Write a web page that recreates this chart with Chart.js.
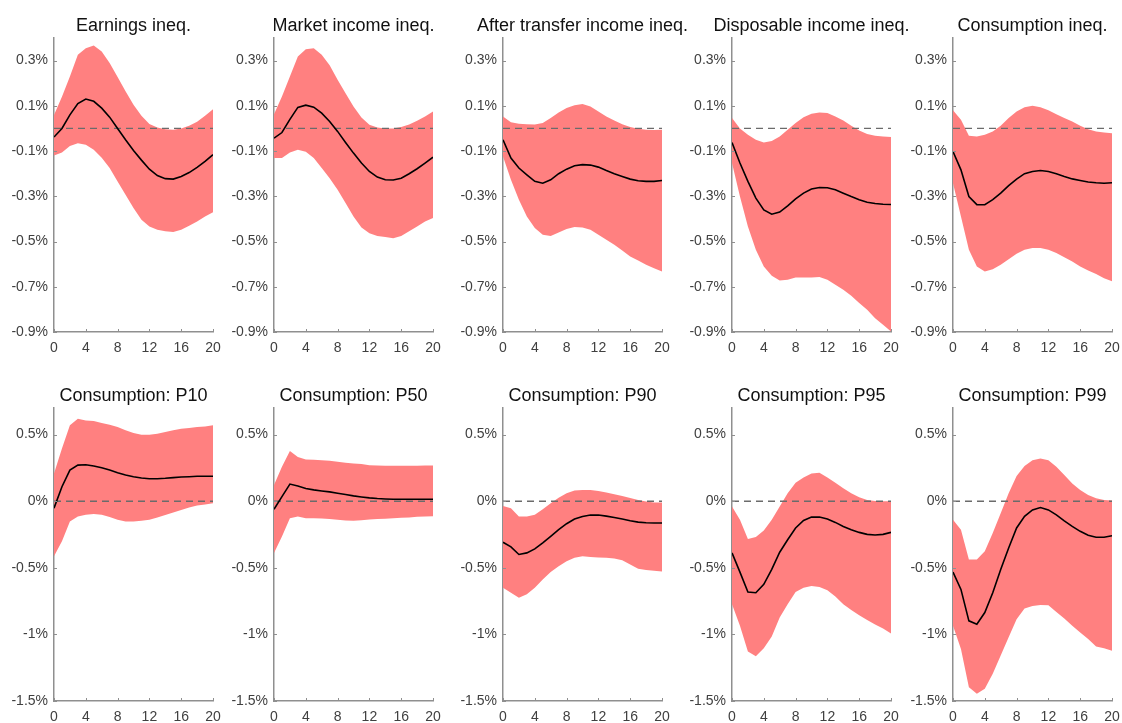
<!DOCTYPE html>
<html>
<head>
<meta charset="utf-8">
<script src="https://cdn.jsdelivr.net/npm/chart.js@4.4.1/dist/chart.umd.min.js"></script>
<style>
  html, body { margin:0; padding:0; background:#fff; }
  #wrap { position:relative; width:1122px; height:723px; overflow:hidden; }
  #wrap canvas { position:absolute; }
</style>
</head>
<body>
<div id="wrap"></div>
<script>
// === data (values in %) ===
const horizon = [0,1,2,3,4,5,6,7,8,9,10,11,12,13,14,15,16,17,18,19,20];
const xTicks = [0,4,8,12,16,20];
const zeroX = [0,20];
const zeroY = [0,0];

const topYTicks = [-0.9,-0.7,-0.5,-0.3,-0.1,0.1,0.3];
const topYRange = [-0.9,0.4];
const bottomYTicks = [-1.5,-1,-0.5,0,0.5];
const bottomYRange = [-1.5,0.7];

const titles = ["Earnings ineq.","Market income ineq.","After transfer income ineq.","Disposable income ineq.","Consumption ineq.",
                "Consumption: P10","Consumption: P50","Consumption: P90","Consumption: P95","Consumption: P99"];

// earnings inequality
const earnMid = [-0.038,0.0,0.06,0.11,0.13,0.12,0.09,0.05,0.0,-0.05,-0.097,-0.14,-0.18,-0.208,-0.222,-0.224,-0.212,-0.195,-0.172,-0.146,-0.116];
const earnHi  = [0.06,0.14,0.23,0.326,0.355,0.367,0.34,0.29,0.227,0.164,0.105,0.056,0.02,0.004,-0.003,-0.006,0.0,0.012,0.03,0.056,0.085];
const earnLo  = [-0.12,-0.106,-0.077,-0.065,-0.072,-0.094,-0.13,-0.175,-0.234,-0.293,-0.352,-0.404,-0.433,-0.448,-0.455,-0.458,-0.448,-0.43,-0.411,-0.389,-0.371];

// market income inequality
const mktMid = [-0.043,-0.018,0.04,0.093,0.103,0.094,0.068,0.031,-0.013,-0.062,-0.109,-0.153,-0.19,-0.215,-0.227,-0.228,-0.22,-0.2,-0.178,-0.153,-0.127];
const mktHi  = [0.063,0.141,0.23,0.318,0.35,0.355,0.326,0.28,0.215,0.156,0.097,0.049,0.016,0.004,0.0,0.0,0.006,0.018,0.034,0.053,0.075];
const mktLo  = [-0.131,-0.131,-0.106,-0.094,-0.103,-0.131,-0.175,-0.22,-0.271,-0.33,-0.389,-0.438,-0.463,-0.475,-0.48,-0.486,-0.475,-0.455,-0.433,-0.411,-0.396];

// after transfer income inequality
const atrMid = [-0.05,-0.131,-0.175,-0.205,-0.234,-0.242,-0.227,-0.2,-0.18,-0.165,-0.16,-0.162,-0.171,-0.186,-0.2,-0.212,-0.224,-0.231,-0.234,-0.234,-0.23];
const atrHi  = [0.053,0.027,0.021,0.019,0.018,0.024,0.046,0.071,0.09,0.103,0.108,0.097,0.075,0.053,0.035,0.019,0.006,-0.001,-0.006,-0.007,-0.006];
const atrLo  = [-0.124,-0.227,-0.315,-0.389,-0.44,-0.47,-0.475,-0.46,-0.445,-0.436,-0.438,-0.448,-0.47,-0.492,-0.514,-0.54,-0.566,-0.584,-0.603,-0.618,-0.632];

// disposable income inequality
const dispMid = [-0.062,-0.153,-0.234,-0.308,-0.36,-0.379,-0.37,-0.342,-0.311,-0.286,-0.268,-0.261,-0.262,-0.271,-0.286,-0.301,-0.315,-0.326,-0.332,-0.335,-0.336];
const dispHi  = [0.046,0.0,-0.028,-0.05,-0.062,-0.055,-0.035,-0.006,0.024,0.05,0.065,0.071,0.068,0.053,0.035,0.012,-0.009,-0.024,-0.032,-0.035,-0.038];
const dispLo  = [-0.153,-0.301,-0.433,-0.536,-0.61,-0.651,-0.672,-0.669,-0.659,-0.659,-0.659,-0.657,-0.669,-0.691,-0.713,-0.74,-0.772,-0.802,-0.839,-0.868,-0.898];

// consumption inequality
const consMid = [-0.102,-0.183,-0.301,-0.337,-0.337,-0.315,-0.286,-0.253,-0.224,-0.2,-0.19,-0.186,-0.19,-0.2,-0.212,-0.223,-0.23,-0.237,-0.24,-0.242,-0.24];
const consHi  = [0.08,0.038,-0.032,-0.035,-0.028,-0.013,0.012,0.046,0.075,0.094,0.1,0.094,0.08,0.063,0.046,0.031,0.012,-0.003,-0.013,-0.018,-0.021];
const consLo  = [-0.242,-0.389,-0.536,-0.61,-0.632,-0.622,-0.603,-0.578,-0.554,-0.536,-0.529,-0.529,-0.536,-0.551,-0.569,-0.588,-0.61,-0.628,-0.643,-0.662,-0.676];

// consumption P10
const p10Mid = [-0.052,0.109,0.234,0.271,0.274,0.264,0.251,0.234,0.214,0.197,0.184,0.174,0.169,0.169,0.172,0.177,0.182,0.184,0.187,0.187,0.187];
const p10Hi  = [0.209,0.396,0.57,0.619,0.607,0.602,0.587,0.575,0.557,0.532,0.512,0.5,0.5,0.507,0.52,0.532,0.545,0.55,0.557,0.562,0.57];
const p10Lo  = [-0.413,-0.3,-0.152,-0.114,-0.102,-0.095,-0.102,-0.119,-0.139,-0.152,-0.152,-0.147,-0.139,-0.122,-0.104,-0.085,-0.065,-0.047,-0.032,-0.025,-0.015];

// consumption P50
const p50Mid = [-0.06,0.035,0.129,0.114,0.095,0.085,0.077,0.07,0.06,0.05,0.04,0.032,0.025,0.02,0.017,0.015,0.015,0.015,0.015,0.015,0.015];
const p50Hi  = [0.122,0.259,0.378,0.333,0.313,0.311,0.308,0.303,0.296,0.289,0.284,0.279,0.271,0.269,0.266,0.266,0.266,0.266,0.266,0.269,0.269];
const p50Lo  = [-0.388,-0.264,-0.127,-0.114,-0.127,-0.127,-0.129,-0.134,-0.139,-0.144,-0.147,-0.142,-0.137,-0.134,-0.132,-0.127,-0.124,-0.122,-0.117,-0.114,-0.112];

// consumption P90
const p90Mid = [-0.308,-0.343,-0.4,-0.388,-0.358,-0.313,-0.264,-0.214,-0.169,-0.134,-0.114,-0.104,-0.104,-0.112,-0.122,-0.134,-0.147,-0.157,-0.162,-0.164,-0.164];
const p90Hi  = [-0.035,-0.052,-0.114,-0.114,-0.102,-0.06,-0.015,0.027,0.06,0.08,0.085,0.085,0.077,0.065,0.052,0.04,0.025,0.01,-0.002,-0.01,-0.01];
const p90Lo  = [-0.649,-0.687,-0.724,-0.699,-0.649,-0.587,-0.532,-0.488,-0.45,-0.425,-0.413,-0.418,-0.423,-0.425,-0.43,-0.443,-0.475,-0.507,-0.517,-0.522,-0.527];

// consumption P95
const p95Mid = [-0.388,-0.532,-0.682,-0.687,-0.624,-0.512,-0.383,-0.289,-0.201,-0.144,-0.119,-0.119,-0.134,-0.159,-0.189,-0.214,-0.234,-0.249,-0.254,-0.249,-0.234];
const p95Hi  = [-0.04,-0.139,-0.284,-0.269,-0.219,-0.139,-0.04,0.06,0.139,0.179,0.209,0.214,0.179,0.139,0.097,0.06,0.03,0.01,0.002,0.0,0.0];
const p95Lo  = [-0.774,-0.935,-1.129,-1.164,-1.104,-1.015,-0.873,-0.774,-0.682,-0.649,-0.637,-0.644,-0.669,-0.716,-0.774,-0.816,-0.856,-0.891,-0.925,-0.955,-0.993];

// consumption P99
const p99Mid = [-0.532,-0.662,-0.898,-0.923,-0.836,-0.687,-0.512,-0.351,-0.201,-0.114,-0.065,-0.047,-0.065,-0.102,-0.147,-0.189,-0.226,-0.256,-0.271,-0.271,-0.259];
const p99Hi  = [-0.139,-0.214,-0.438,-0.438,-0.376,-0.239,-0.09,0.06,0.189,0.264,0.308,0.321,0.308,0.259,0.197,0.134,0.085,0.047,0.022,0.01,0.005];
const p99Lo  = [-0.935,-1.109,-1.396,-1.445,-1.408,-1.296,-1.159,-1.022,-0.886,-0.806,-0.786,-0.779,-0.781,-0.831,-0.881,-0.935,-0.985,-1.035,-1.09,-1.104,-1.122];

const series = [
  [earnMid, earnLo, earnHi], [mktMid, mktLo, mktHi], [atrMid, atrLo, atrHi], [dispMid, dispLo, dispHi], [consMid, consLo, consHi],
  [p10Mid, p10Lo, p10Hi], [p50Mid, p50Lo, p50Hi], [p90Mid, p90Lo, p90Hi], [p95Mid, p95Lo, p95Hi], [p99Mid, p99Lo, p99Hi]
];

// === layout ===
const FONT = "'Liberation Sans', Arial, Helvetica, sans-serif";
const BAND = "#ff8080";
const AXIS = "#8f8f8f";
const TXT = "#404040";
const axisLeft = [54, 274, 503, 732, 953];
const plotW = 159, yAxisW = 54, xAxisH = 22, padR = 40;
const rows = [
  { top: 0,   padTop: 38, plotH: 294, titleBase: 31, ticks: topYTicks,    range: topYRange },
  { top: 358, padTop: 50, plotH: 293, titleBase: 43, ticks: bottomYTicks, range: bottomYRange }
];

const pts = ys => ys.map((y,i)=>({x: horizon[i], y}));
const fmtPct = v => `${Math.round(v*10)/10}%`;

// title centred over the plot area + inward tick marks (MATLAB style)
const panelDeco = {
  id: "panelDeco",
  afterDraw(chart, args, opts){
    const {ctx, chartArea: a, scales:{x, y}} = chart;
    ctx.save();
    ctx.strokeStyle = AXIS; ctx.lineWidth = 1;
    ctx.beginPath();
    xTicks.forEach(t => { const px = Math.round(x.getPixelForValue(t))+0.5; ctx.moveTo(px, a.bottom); ctx.lineTo(px, a.bottom-3); });
    opts.yt.forEach(t => { const py = Math.round(y.getPixelForValue(t))+0.5; ctx.moveTo(a.left, py); ctx.lineTo(a.left+3, py); });
    ctx.stroke();
    ctx.fillStyle = "#111";
    ctx.font = `18px ${FONT}`;
    ctx.textAlign = "center"; ctx.textBaseline = "alphabetic";
    ctx.fillText(opts.title, (a.left+a.right)/2, opts.titleBase);
    ctx.restore();
  }
};

const wrap = document.getElementById("wrap");
titles.forEach((title, k)=>{
  const row = rows[Math.floor(k/5)], col = k%5;
  const [mid, lo, hi] = series[k];
  const cv = document.createElement("canvas");
  const W = yAxisW + plotW + padR, H = row.padTop + row.plotH + xAxisH;
  cv.width = W; cv.height = H;
  cv.style.left = (axisLeft[col]-yAxisW) + "px";
  cv.style.top = row.top + "px";
  wrap.appendChild(cv);

  // lower "order" is drawn on top
  new Chart(cv, {
    type: "line",
    data: { datasets: [
      { data: pts(lo), borderWidth: 0, pointRadius: 0, fill: false, order: 3 },
      { data: pts(hi), borderWidth: 0, pointRadius: 0, fill: "-1", backgroundColor: BAND, order: 2 },
      { data: zeroX.map((x,i)=>({x, y: zeroY[i]})), borderColor: "#6b6b6b", borderWidth: 1.3, borderDash: [7,5], pointRadius: 0, fill: false, order: 1 },
      { data: pts(mid), borderColor: "#000", borderWidth: 1.6, pointRadius: 0, fill: false, tension: 0, order: 0 }
    ]},
    options: {
      responsive: false, animation: false, devicePixelRatio: 1,
      layout: { padding: { top: row.padTop, right: padR, left: 0, bottom: 0 } },
      plugins: { legend: {display:false}, tooltip: {enabled:false},
        panelDeco: { title, titleBase: row.titleBase, yt: row.ticks } },
      scales: {
        x: { type: "linear", min: 0, max: 20,
          afterBuildTicks: s => { s.ticks = xTicks.map(v=>({value:v})); },
          afterFit: s => { s.height = xAxisH; },
          grid: { display: false, drawTicks: false },
          border: { display: true, color: AXIS, width: 1.5 },
          ticks: { color: TXT, font: { family: FONT, size: 14 }, padding: 8, maxRotation: 0, autoSkip: false }
        },
        y: { min: row.range[0], max: row.range[1],
          afterBuildTicks: s => { s.ticks = row.ticks.map(v=>({value:v})); },
          afterFit: s => { s.width = yAxisW; },
          grid: { display: false, drawTicks: false },
          border: { display: true, color: AXIS, width: 1.5 },
          ticks: { color: TXT, font: { family: FONT, size: 14 }, padding: 6, callback: v => fmtPct(v) }
        }
      }
    },
    plugins: [panelDeco]
  });
});
</script>
</body>
</html>
